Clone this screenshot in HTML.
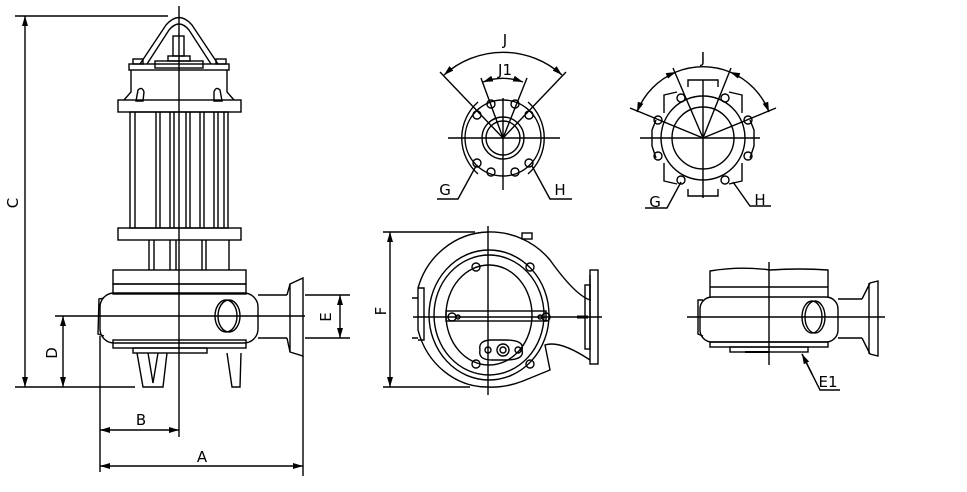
<!DOCTYPE html>
<html><head><meta charset="utf-8"><style>
html,body{margin:0;padding:0;background:#fff;}
svg{display:block;}
text{font-family:"DejaVu Sans","Liberation Sans",sans-serif;font-size:15px;fill:#000;}
</style></head><body>
<svg width="967" height="492" viewBox="0 0 967 492" xmlns="http://www.w3.org/2000/svg">
<defs>
<marker id="a" viewBox="0 0 10 6" refX="10" refY="3" markerWidth="10" markerHeight="6" orient="auto-start-reverse" markerUnits="userSpaceOnUse"><path d="M0,0 L10,3 L0,6 z" fill="#000"/></marker>
</defs>
<g fill="none" stroke="#000" stroke-width="1.4">
<!-- ===== LEFT SIDE VIEW ===== -->
<line x1="179" y1="6" x2="179" y2="437"/>
<path d="M140,64 L166,25 Q179,10 192,25 L218,64"/>
<path d="M147,64 L169,30 Q179,18 189,30 L211,64"/>
<rect x="173" y="36" width="11" height="20"/>
<rect x="168" y="56" width="22" height="5"/>
<rect x="155" y="61" width="48" height="7"/>
<rect x="133" y="59" width="10" height="5"/><rect x="216" y="59" width="10" height="5"/>
<rect x="129" y="64" width="100" height="6"/>
<path d="M131,70 L131,92 L124,100 M227,70 L227,92 L234,100"/>
<path d="M136,101 L138,90 Q142,86 144,92 L143,101 Z M214,101 L214,92 Q216,86 220,90 L222,101 Z"/>
<rect x="118" y="100" width="123" height="12"/>
<rect x="130" y="112" width="98" height="116"/>
<path d="M135,112V228 M156,112V228 M160,112V228 M170,112V228 M174,112V228 M186,112V228 M190,112V228 M200,112V228 M204,112V228 M214,112V228 M218,112V228 M224,112V228"/>
<rect x="118" y="228" width="123" height="12"/>
<path d="M149,240V270 M154,240V270 M170,240V270 M176,240V270 M206,240V270 M229,240V270 M202,240V270"/>
<rect x="113" y="270" width="133" height="14"/>
<rect x="113" y="284" width="133" height="10"/>
<rect x="100" y="293" width="158" height="50" rx="14"/>
<path d="M104,298 L99,299 L98,334 L104,336"/>
<line x1="258" y1="295" x2="287" y2="295"/><line x1="258" y1="338" x2="287" y2="338"/>
<path d="M287,295 L290,284 L303,278 L303,356 L290,352 L287,338"/>
<path d="M290,284 L290,352"/>
<ellipse cx="229" cy="316" rx="11" ry="16"/>
<ellipse cx="226" cy="316" rx="11" ry="16"/>
<rect x="113" y="340" width="133" height="8"/>
<rect x="133" y="348" width="74" height="5"/>
<path d="M137,353 L143,387 L163,387 L167,353 M148,353 L153,383 L158,353"/>
<path d="M227,353 L232,387 L240,387 L241,353"/>
<line x1="92" y1="316" x2="305" y2="316"/>
<line x1="15" y1="16" x2="168" y2="16"/>
<line x1="15" y1="387" x2="135" y2="387"/>
<line x1="25" y1="16" x2="25" y2="387" marker-start="url(#a)" marker-end="url(#a)"/>
<line x1="55" y1="316" x2="92" y2="316"/>
<line x1="63" y1="316" x2="63" y2="387" marker-start="url(#a)" marker-end="url(#a)"/>
<line x1="100" y1="336" x2="100" y2="472"/>
<line x1="303" y1="356" x2="303" y2="476"/>
<line x1="100" y1="430" x2="179" y2="430" marker-start="url(#a)" marker-end="url(#a)"/>
<line x1="100" y1="466" x2="303" y2="466" marker-start="url(#a)" marker-end="url(#a)"/>
<line x1="305" y1="295" x2="350" y2="295"/><line x1="305" y1="338" x2="350" y2="338"/>
<line x1="340" y1="295" x2="340" y2="338" marker-start="url(#a)" marker-end="url(#a)"/>

<!-- ===== TOP MIDDLE (J1) ===== -->
<line x1="448" y1="138" x2="560" y2="138"/>
<line x1="503" y1="98" x2="503" y2="190"/>
<path d="M478,102 A48,48 0 0 0 478,174 M528,102 A48,48 0 0 1 528,174"/>
<circle cx="503" cy="138" r="38"/>
<circle cx="503" cy="138" r="21"/><circle cx="503" cy="138" r="17"/>
<line x1="503" y1="138" x2="440" y2="72"/><line x1="503" y1="138" x2="566" y2="72"/>
<line x1="503" y1="138" x2="481" y2="78"/><line x1="503" y1="138" x2="527" y2="78"/>
<path d="M444,75 A88,88 0 0 1 562,75" marker-start="url(#a)" marker-end="url(#a)"/>
<path d="M483,82 A58,58 0 0 1 523,82" marker-start="url(#a)" marker-end="url(#a)"/>
<circle cx="477" cy="115" r="4"/><circle cx="529" cy="115" r="4"/>
<circle cx="491" cy="104" r="4"/><circle cx="515" cy="104" r="4"/>
<circle cx="477" cy="163" r="4"/><circle cx="529" cy="163" r="4"/>
<circle cx="491" cy="172" r="4"/><circle cx="515" cy="172" r="4"/>
<path d="M437,199 L458,199 L476,166"/><path d="M572,199 L550,199 L532,166"/>

<!-- ===== TOP RIGHT (J) ===== -->
<line x1="640" y1="138" x2="760" y2="138"/>
<line x1="703" y1="80" x2="703" y2="198"/>
<circle cx="703" cy="138" r="31"/>
<circle cx="703" cy="138" r="42"/>
<path d="M688,87 L688,80 L718,80 L718,87 M688,189 L688,196 L718,196 L718,189"/>
<path d="M664,113 L664,95 L677,92 M742,113 L742,95 L729,92 M664,163 L664,181 L677,184 M742,163 L742,181 L729,184"/>
<path d="M656,120 L652,130 L652,146 L656,158 M750,120 L754,130 L754,146 L750,158"/>
<circle cx="658" cy="120" r="4"/><circle cx="748" cy="120" r="4"/>
<circle cx="658" cy="156" r="4"/><circle cx="748" cy="156" r="4"/>
<circle cx="681" cy="98" r="4"/><circle cx="725" cy="98" r="4"/>
<circle cx="681" cy="180" r="4"/><circle cx="725" cy="180" r="4"/>
<line x1="703" y1="138" x2="630" y2="108"/><line x1="703" y1="138" x2="776" y2="108"/>
<line x1="703" y1="138" x2="673" y2="68"/><line x1="703" y1="138" x2="731" y2="68"/>
<path d="M637,112 A71,71 0 0 1 676,72" marker-start="url(#a)" marker-end="url(#a)"/>
<path d="M730,72 A71,71 0 0 1 769,112" marker-start="url(#a)" marker-end="url(#a)"/>
<path d="M676,72 A71,71 0 0 1 730,72"/>
<path d="M645,208 L667,208 L681,182"/><path d="M771,206 L750,206 L733,182"/>

<!-- ===== BOTTOM MIDDLE ===== -->
<line x1="383" y1="232" x2="475" y2="232"/>
<line x1="383" y1="387" x2="470" y2="387"/>
<line x1="390" y1="232" x2="390" y2="387" marker-start="url(#a)" marker-end="url(#a)"/>
<path d="M488,232 A78,78 0 0 1 550,260 Q575,295 590,300 L590,275 M590,360 Q560,340 545,345 L550,370 L523,381 Q505,388 488,387 A72,78 0 0 1 418,330 L418,288 A75,78 0 0 1 488,232"/>
<path d="M412,298 L418,298 M412,338 L418,338"/>
<path d="M418,288 L424,288 L424,340 L418,340"/>
<ellipse cx="489" cy="315" rx="60" ry="65"/>
<ellipse cx="489" cy="315" rx="55" ry="60"/>
<ellipse cx="489" cy="315" rx="43" ry="50"/>
<rect x="590" y="270" width="8" height="94"/>
<rect x="585" y="285" width="5" height="64"/>
<rect x="522" y="233" width="10" height="6"/>
<rect x="446" y="311" width="100" height="10"/>
<circle cx="452" cy="317" r="4"/><circle cx="458" cy="317" r="2"/>
<circle cx="540" cy="317" r="2"/><circle cx="546" cy="317" r="4"/>
<circle cx="476" cy="267" r="4"/><circle cx="530" cy="267" r="4"/>
<circle cx="476" cy="364" r="4"/><circle cx="530" cy="364" r="4"/>
<path d="M480,350 Q478,340 492,340 L505,340 Q525,340 522,350 Q525,360 505,360 L492,360 Q478,360 480,350 Z"/>
<circle cx="503" cy="350" r="6"/><circle cx="503" cy="350" r="3"/>
<circle cx="488" cy="350" r="3"/><circle cx="518" cy="350" r="3"/>
<line x1="413" y1="317" x2="602" y2="317"/>
<line x1="488" y1="226" x2="488" y2="395"/>
<line x1="577" y1="317" x2="588" y2="317" stroke-width="3"/>

<!-- ===== BOTTOM RIGHT ===== -->
<path d="M710,297 L710,271 Q740,266 770,270 Q800,268 828,270 L828,297"/>
<line x1="710" y1="287" x2="828" y2="287"/>
<rect x="700" y="297" width="138" height="45" rx="12"/>
<path d="M703,300 L698,300 L698,334 L703,336"/>
<line x1="838" y1="299" x2="862" y2="299"/><line x1="838" y1="338" x2="862" y2="338"/>
<path d="M862,299 L870,283 L878,281 L878,356 L870,354 L862,338"/>
<line x1="869" y1="283" x2="869" y2="354"/>
<ellipse cx="815" cy="317" rx="10" ry="16"/><ellipse cx="812" cy="317" rx="10" ry="16"/>
<rect x="710" y="342" width="118" height="5"/>
<rect x="730" y="347" width="78" height="5"/>
<line x1="745" y1="352" x2="770" y2="352" stroke-width="2"/>
<line x1="687" y1="317" x2="885" y2="317"/>
<line x1="769" y1="262" x2="769" y2="365"/>
<path d="M802,354 L820,390 L840,390" />
<line x1="812" y1="374" x2="802" y2="354" marker-end="url(#a)"/>
</g>
<text x="0" y="0" transform="translate(18,203) rotate(-90)" text-anchor="middle">C</text>
<text x="0" y="0" transform="translate(57,353) rotate(-90)" text-anchor="middle">D</text>
<text x="0" y="0" transform="translate(331,317) rotate(-90)" text-anchor="middle">E</text>
<text x="0" y="0" transform="translate(386,311) rotate(-90)" text-anchor="middle">F</text>
<text x="141" y="425" text-anchor="middle">B</text>
<text x="202" y="462" text-anchor="middle">A</text>
<text x="505" y="45" text-anchor="middle">J</text>
<text x="505" y="75" text-anchor="middle">J1</text>
<text x="703" y="63" text-anchor="middle">J</text>
<text x="445" y="195" text-anchor="middle">G</text>
<text x="560" y="195" text-anchor="middle">H</text>
<text x="655" y="207" text-anchor="middle">G</text>
<text x="760" y="205" text-anchor="middle">H</text>
<text x="828" y="387" text-anchor="middle">E1</text>
</svg>
</body></html>
